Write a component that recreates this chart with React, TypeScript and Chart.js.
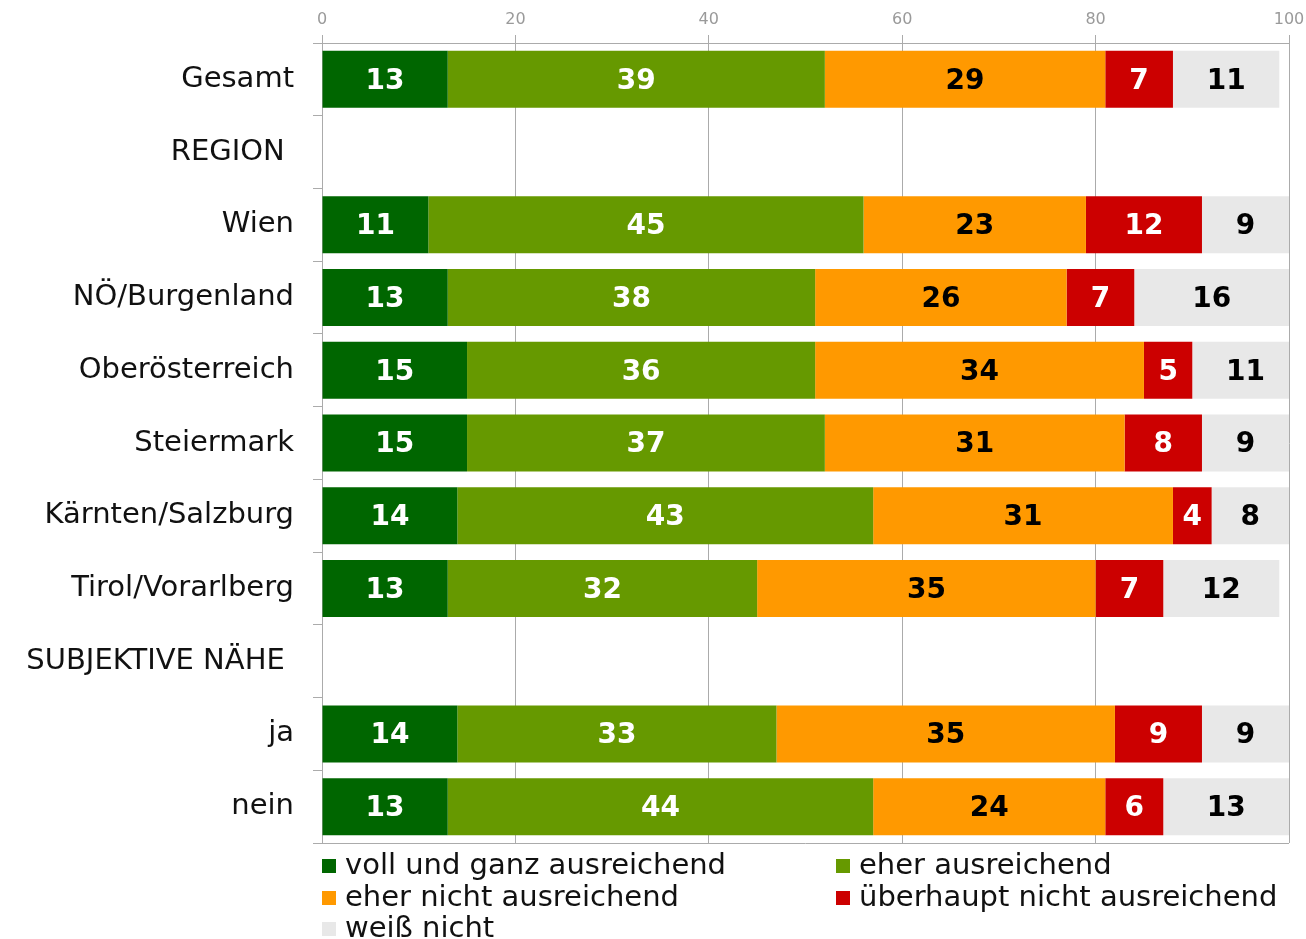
import React, { useEffect, useRef } from "react";
import { Chart, registerables } from "chart.js";

Chart.register(...registerables);

const categories = [
  "Gesamt",
  "REGION ",
  "Wien",
  "NÖ/Burgenland",
  "Oberösterreich",
  "Steiermark",
  "Kärnten/Salzburg",
  "Tirol/Vorarlberg",
  "SUBJEKTIVE NÄHE ",
  "ja",
  "nein",
];

const seriesNames = [
  "voll und ganz ausreichend",
  "eher ausreichend",
  "eher nicht ausreichend",
  "überhaupt nicht ausreichend",
  "weiß nicht",
];

const vollUndGanz = [13, null, 11, 13, 15, 15, 14, 13, null, 14, 13];
const eherAusreichend = [39, null, 45, 38, 36, 37, 43, 32, null, 33, 44];
const eherNicht = [29, null, 23, 26, 34, 31, 31, 35, null, 35, 24];
const ueberhauptNicht = [7, null, 12, 7, 5, 8, 4, 7, null, 9, 6];
const weissNicht = [11, null, 9, 16, 11, 9, 8, 12, null, 9, 13];

const xTicks = [0, 20, 40, 60, 80, 100];

const colors = ["#006600", "#669900", "#FF9900", "#CC0000", "#E8E8E8"];
const labelColors = ["#ffffff", "#ffffff", "#000000", "#ffffff", "#000000"];

const FONT = "'DejaVu Sans', Verdana, sans-serif";
const GRID = "#ababab";

const dataLabelPlugin = {
  id: "dataLabels",
  afterDatasetsDraw(chart: any) {
    const ctx = chart.ctx;
    ctx.save();
    ctx.font = `bold 28px ${FONT}`;
    ctx.textAlign = "center";
    ctx.textBaseline = "middle";
    chart.data.datasets.forEach((ds: any, di: number) => {
      const meta = chart.getDatasetMeta(di);
      meta.data.forEach((el: any, i: number) => {
        const v = ds.data[i];
        if (v === null || v === undefined) return;
        const p = el.getProps(["x", "y", "base"], true);
        ctx.fillStyle = labelColors[di];
        ctx.fillText(String(v), (p.x + p.base) / 2, p.y + 2);
      });
    });
    ctx.restore();
  },
};

const frameAndLegendPlugin = {
  id: "frameLegend",
  afterDraw(chart: any) {
    const ctx = chart.ctx;
    const a = chart.chartArea;
    ctx.save();
    ctx.strokeStyle = GRID;
    ctx.lineWidth = 1;
    ctx.beginPath();
    ctx.moveTo(a.left, Math.round(a.bottom) + 0.5);
    ctx.lineTo(a.right, Math.round(a.bottom) + 0.5);
    ctx.stroke();

    // legend
    const colX = [a.left, 836];
    const rowY = [866, 898, 929];
    ctx.font = `29px ${FONT}`;
    ctx.textAlign = "left";
    ctx.textBaseline = "middle";
    seriesNames.forEach((name, i) => {
      const cx = colX[i % 2];
      const cy = rowY[Math.floor(i / 2)];
      ctx.fillStyle = colors[i];
      ctx.fillRect(cx, cy - 7, 14, 14);
      ctx.fillStyle = "#111111";
      ctx.fillText(name, cx + 23, cy);
    });
    ctx.restore();
  },
};

export default function App() {
  const ref = useRef<HTMLCanvasElement>(null);

  useEffect(() => {
    if (!ref.current) return;
    const series = [vollUndGanz, eherAusreichend, eherNicht, ueberhauptNicht, weissNicht];
    const chart = new Chart(ref.current, {
      type: "bar",
      data: {
        labels: categories,
        datasets: series.map((d, i) => ({
          label: seriesNames[i],
          data: d,
          backgroundColor: colors[i],
          borderWidth: 0,
          barPercentage: 0.784,
          categoryPercentage: 1,
        })),
      },
      options: {
        indexAxis: "y",
        responsive: false,
        animation: false,
        layout: { padding: { left: 0, top: 0, right: 17, bottom: 96 } },
        plugins: {
          legend: { display: false },
          tooltip: { enabled: false },
        },
        scales: {
          x: {
            position: "top",
            stacked: true,
            min: 0,
            max: 100,
            afterBuildTicks: (scale: any) => {
              scale.ticks = xTicks.map((v) => ({ value: v }));
            },
            afterFit: (scale: any) => {
              scale.height = 43;
              scale.paddingRight = 0;
              scale.paddingLeft = 0;
            },
            ticks: {
              color: "#9a9a9a",
              font: { family: FONT, size: 16 },
              padding: 6,
            },
            grid: { color: GRID, tickLength: 8, lineWidth: 1 },
            border: { color: GRID },
          },
          y: {
            stacked: true,
            afterFit: (scale: any) => {
              scale.width = 322;
            },
            ticks: {
              color: "#111111",
              font: { family: FONT, size: 29 },
              padding: 19,
            },
            grid: {
              display: true,
              drawOnChartArea: false,
              tickLength: 9,
              color: GRID,
              offset: true,
            },
            border: { color: GRID },
          },
        },
      } as any,
      plugins: [dataLabelPlugin, frameAndLegendPlugin],
    });
    return () => chart.destroy();
  }, []);

  return (
    <div style={{ position: "absolute", left: 0, top: 0, width: 1306, height: 939, background: "#fff" }}>
      <canvas ref={ref} width={1306} height={939} style={{ width: 1306, height: 939, display: "block" }} />
    </div>
  );
}
